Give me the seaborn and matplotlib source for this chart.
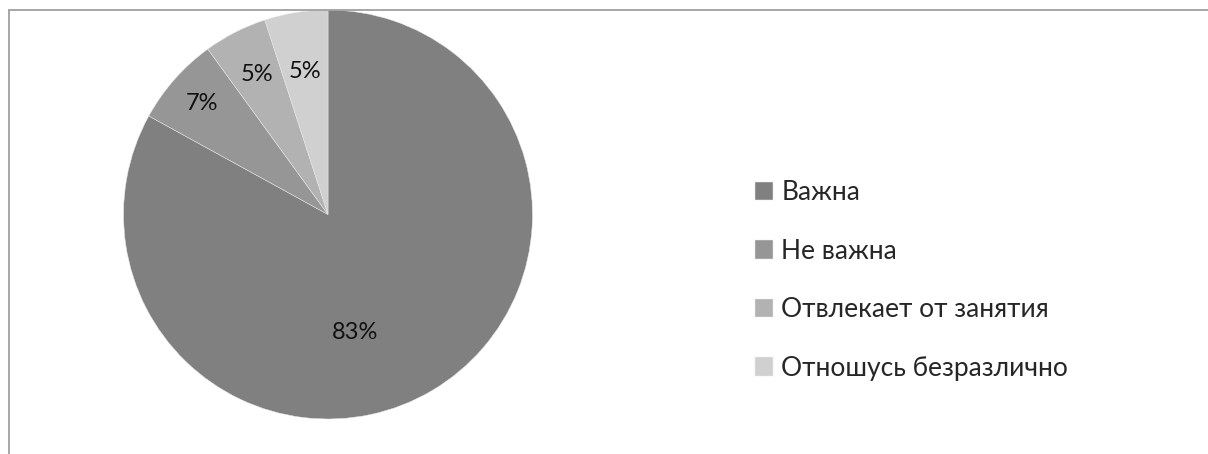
import numpy as np
import matplotlib
matplotlib.use("Agg")
import matplotlib.pyplot as plt
from matplotlib.lines import Line2D
import seaborn as sns

# Survey answers and their shares (%)
categories = ["Важна", "Не важна", "Отвлекает от занятия", "Отношусь безразлично"]
shares = [83, 7, 5, 5]
colors = ["#808080", "#969696", "#b2b2b2", "#d0d0d0"]

sns.set_theme(style="white")
plt.rcParams["font.family"] = ["Lato", "DejaVu Sans"]

W, H = 1208, 454
fig = plt.figure(figsize=(W / 100, H / 100), dpi=100)
fig.patch.set_facecolor("white")

# Chart-area border (top and left edges visible)
border = "#a0a0a0"
fig.add_artist(Line2D([9 / W, 1.0], [1 - 10 / H, 1 - 10 / H], color=border, lw=1.3,
                      transform=fig.transFigure))
fig.add_artist(Line2D([9 / W, 9 / W], [0.0, 1 - 10 / H], color=border, lw=1.3,
                      transform=fig.transFigure))

# Pie area
cx, cy, r = 328, 214.5, 204.5
ax = fig.add_axes([(cx - r) / W, (H - cy - r) / H, 2 * r / W, 2 * r / H])
wedges, texts, autotexts = ax.pie(
    shares, colors=colors, startangle=90, counterclock=False,
    autopct=lambda p: f"{p:.0f}%", pctdistance=0.78,
    wedgeprops=dict(linewidth=0.35, edgecolor="#e8e8e8"),
    textprops=dict(fontsize=17, color="#111111"),
)
ax.set_xlim(-1, 1)
ax.set_ylim(-1, 1)
ax.set_aspect("equal")
ax.axis("off")

# Label placement: radial distance and angular shift per slice
label_dist = [0.59, 0.82, 0.77, 0.71]
label_shift = [-17.7, 0.0, 0.0, 0.0]
for w, t, d, s in zip(wedges, autotexts, label_dist, label_shift):
    ang = np.deg2rad((w.theta1 + w.theta2) / 2 + s)
    t.set_position((d * np.cos(ang), d * np.sin(ang)))

fig.legend(
    wedges, categories, loc="upper left",
    bbox_to_anchor=(755 / W, 1 - 180 / H), bbox_transform=fig.transFigure,
    frameon=False, fontsize=19, handlelength=0.7, handleheight=0.7,
    handletextpad=0.3, labelspacing=1.27, borderpad=0, borderaxespad=0,
)

fig.savefig("out.png", dpi=100, facecolor="white")
